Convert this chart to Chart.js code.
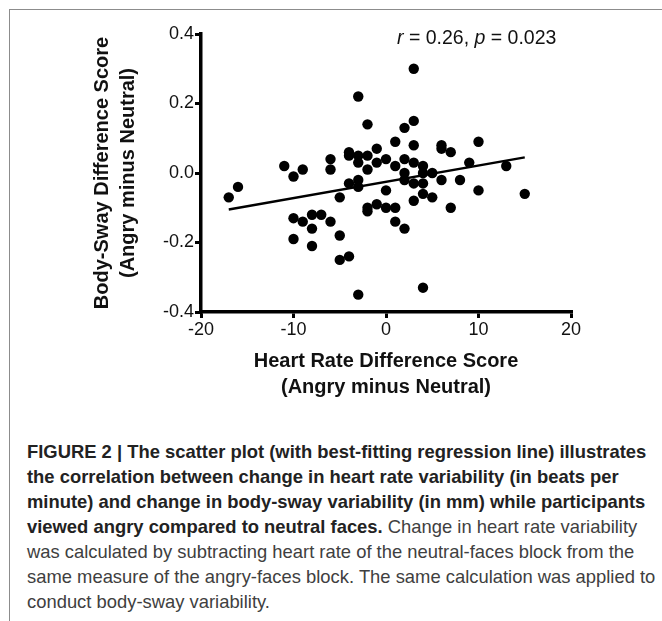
<!DOCTYPE html>
<html>
<head>
<meta charset="utf-8">
<script src="https://cdn.jsdelivr.net/npm/chart.js@4/dist/chart.umd.min.js"></script>
<style>
  html, body { margin: 0; padding: 0; background: #fff; }
  body { width: 662px; height: 621px; position: relative; overflow: hidden; font-family: "Liberation Sans", Arial, sans-serif; }
  #frame { position: absolute; left: 9px; top: 9px; width: 700px; height: 700px; border-top: 1px solid #8c8c8c; border-left: 1px solid #8c8c8c; }
  #wrap { position: absolute; left: 0; top: 0; width: 662px; height: 420px; }
  #stat { position: absolute; left: 397px; top: 26px; font-size: 19.5px; color: #111; white-space: nowrap; }
  #caption { position: absolute; left: 27px; top: 439px; font-size: 18.4px; line-height: 25px; color: #404040; white-space: nowrap; }
  #caption b { color: #222; }
</style>
</head>
<body>
<div id="frame"></div>
<div id="wrap"><canvas id="c" width="662" height="420"></canvas></div>
<div id="stat"><i>r</i> = 0.26, <i>p</i> = 0.023</div>
<div id="caption">
<b>FIGURE 2 | The scatter plot (with best-fitting regression line) illustrates<br>
the correlation between change in heart rate variability (in beats per<br>
minute) and change in body-sway variability (in mm) while participants<br>
viewed angry compared to neutral faces.</b> Change in heart rate variability<br>
was calculated by subtracting heart rate of the neutral-faces block from the<br>
same measure of the angry-faces block. The same calculation was applied to<br>
conduct body-sway variability.
</div>
<script>
// heart rate difference (x) and body-sway difference (y)
const heartRate = [-17, -16, -11, -10, -9, -10, -9, -8, -7, -8, -6, -10, -8, -5, -5, -4, -3,
  -6, -6, -5, -4, -4, -4, -3, -3, -3, -3, -3, -2, -2, -2, -2, -2, -1, -1, -1,
  0, 0, 0, 1, 1, 1, 1, 2, 2, 2, 2, 2, 3, 3, 3, 3, 3, 3,
  4, 4, 4, 4, 4, 5, 5, 6, 6, 6, 7, 7, 8, 9, 10, 10, 13, 15];
const bodySway = [-0.07, -0.04, 0.02, -0.01, 0.01, -0.13, -0.14, -0.12, -0.12, -0.16, -0.14, -0.19, -0.21, -0.18, -0.25, -0.24, -0.35,
  0.04, 0.01, -0.07, 0.06, 0.05, -0.03, 0.22, 0.05, 0.03, -0.02, -0.04, 0.14, 0.05, 0.01, -0.10, -0.11, 0.07, 0.03, -0.09,
  0.04, -0.05, -0.10, 0.09, 0.02, -0.10, -0.14, 0.13, 0.04, 0.00, -0.02, -0.16, 0.30, 0.15, 0.08, 0.03, -0.03, -0.08,
  0.02, 0.00, -0.03, -0.06, -0.33, 0.00, -0.07, 0.08, 0.07, -0.02, 0.06, -0.10, -0.02, 0.03, 0.09, -0.05, 0.02, -0.06];

// regression line end points
const fitX = [-17, 15];
const fitY = [-0.105, 0.045];

const xTicks = [-20, -10, 0, 10, 20];
const yTicks = [-0.4, -0.2, 0.0, 0.2, 0.4];

const points = heartRate.map((x, i) => ({ x: x, y: bodySway[i] }));
const fitLine = fitX.map((x, i) => ({ x: x, y: fitY[i] }));

const tickFont = { family: 'Liberation Sans', size: 18 };
const titleFont = { family: 'Liberation Sans', size: 20, weight: 'bold', lineHeight: 1.3 };

new Chart(document.getElementById('c'), {
  type: 'scatter',
  data: {
    datasets: [{
      data: points,
      backgroundColor: '#000',
      borderWidth: 0,
      pointRadius: 5.2,
      pointHoverRadius: 5.2
    }, {
      type: 'line',
      data: fitLine,
      borderColor: '#000',
      borderWidth: 2.4,
      pointRadius: 0,
      fill: false
    }]
  },
  options: {
    responsive: false,
    animation: false,
    events: [],
    layout: { padding: { left: 0, top: 34, right: 91, bottom: 0 } },
    plugins: { legend: { display: false }, tooltip: { enabled: false } },
    scales: {
      x: {
        type: 'linear',
        min: -20, max: 20,
        afterBuildTicks: s => { s.ticks = xTicks.map(v => ({ value: v })); },
        afterFit: s => { s.height = 108; },
        ticks: { font: tickFont, color: '#111', padding: 1, maxRotation: 0 },
        grid: { drawOnChartArea: false, lineWidth: 3, tickLength: 6, tickWidth: 3, tickColor: '#000' },
        border: { color: '#000', width: 3.5 },
        title: { display: true, text: ['Heart Rate Difference Score', '(Angry minus Neutral)'], font: titleFont, color: '#111', padding: { top: 0, bottom: 20 } }
      },
      y: {
        type: 'linear',
        min: -0.4, max: 0.4,
        afterBuildTicks: s => { s.ticks = yTicks.map(v => ({ value: v })); },
        afterFit: s => { s.width = 201; },
        ticks: { font: tickFont, color: '#111', padding: 1, callback: v => v.toFixed(1) },
        grid: { drawOnChartArea: false, lineWidth: 3, tickLength: 6, tickWidth: 3, tickColor: '#000' },
        border: { color: '#000', width: 3.5 },
        title: { display: true, text: ['Body-Sway Difference Score', '(Angry minus Neutral)'], font: titleFont, color: '#111', padding: { top: 89, bottom: 0 } }
      }
    }
  }
});
</script>
</body>
</html>
